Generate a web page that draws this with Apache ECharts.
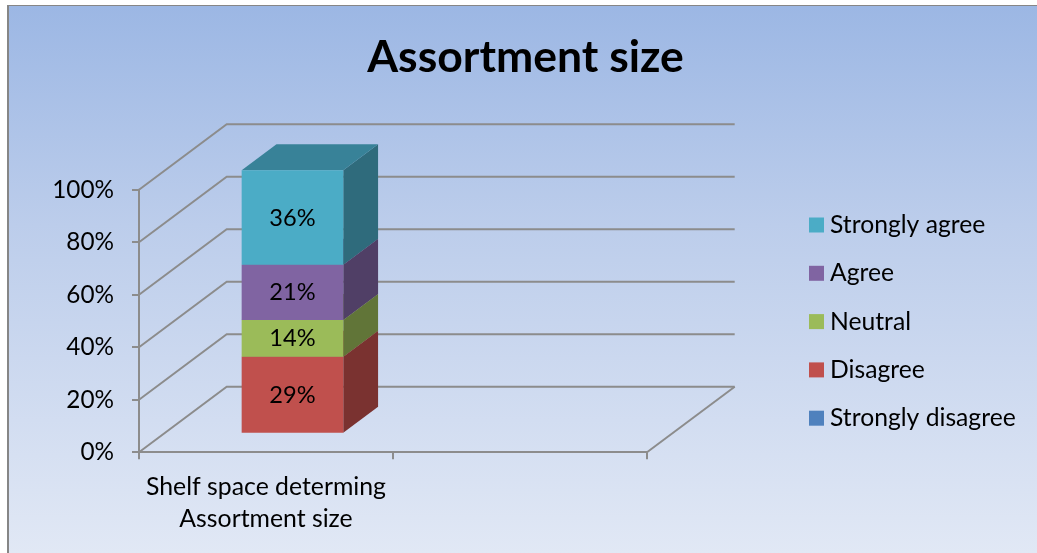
<!DOCTYPE html>
<html>
<head>
<meta charset="utf-8">
<script src="https://cdn.jsdelivr.net/npm/echarts@6/dist/echarts.min.js"></script>
<style>
html,body{margin:0;padding:0;background:#fff;overflow:hidden}
#bg{position:absolute;left:7px;top:5px;width:1030px;height:548px;box-sizing:border-box;border-left:2px solid #868686;border-top:1px solid #868686;background:linear-gradient(180deg,#9cb7e4 0%,#bccdeb 40%,#e1e8f5 100%)}
#chart{position:absolute;left:0;top:0;width:1037px;height:553px}
</style>
</head>
<body>
<div id="bg"></div>
<div id="chart"></div>
<script>
var categories = ['Shelf space determing\nAssortment size', ''];
var seriesNames = ['Strongly disagree', 'Disagree', 'Neutral', 'Agree', 'Strongly agree'];
var seriesValues = [0, 29, 14, 21, 36];
var frontColors = ['#4f81bd', '#c0504d', '#9bbb59', '#8064a2', '#4bacc6'];
var sideColors = ['#2f4d71', '#7a3230', '#617538', '#503f66', '#2f6b7c'];
var topColors = ['#3c618e', '#994040', '#7b9547', '#664f81', '#388298'];
var yTicks = [0, 20, 40, 60, 80, 100];

var FONT = 'Lato, "Open Sans", sans-serif';
var depthX = 87.7, depthY = 65.5;   // oblique projection of the chart's depth
var barNear = 0.296, barFar = 0.693, barRatio = 0.4;
var LINE = '#8c8c8c', LINE_W = 2;

function project(p, t) { return [p[0] + depthX * t, p[1] - depthY * t]; }

function stackBase(idx) {
  var s = 0;
  for (var i = 0; i < idx; i++) s += seriesValues[i];
  return s;
}

function renderWall(params, api) {
  var v = api.value(0);
  var left = api.coord([0, v]);
  var halfCat = api.size([1, 0])[0] / 2;
  var x0 = left[0] - halfCat, y = left[1];
  var x1 = x0 + halfCat * 4;
  var a = [x0, y], b = project(a, 1), c = project([x1, y], 1);
  var style = { stroke: LINE, lineWidth: LINE_W, fill: null };
  var children = [{ type: 'polyline', shape: { points: [a, b, c] }, style: style }];
  if (v === 0) {
    children.push({ type: 'line', shape: { x1: x1, y1: y, x2: c[0], y2: c[1] }, style: style });
  }
  return { type: 'group', children: children };
}

function makeBarRender(idx) {
  return function (params, api) {
    var val = seriesValues[idx];
    if (!val) return { type: 'group', children: [] };
    var base = stackBase(idx);
    var p0 = api.coord([api.value(0), base]);
    var p1 = api.coord([api.value(0), base + val]);
    var w = api.size([1, 0])[0] * barRatio;
    var l = p0[0] - w / 2 + 0.5, r = p0[0] + w / 2 + 0.5;
    var fbl = project([l, p0[1]], barNear), fbr = project([r, p0[1]], barNear);
    var ftl = project([l, p1[1]], barNear), ftr = project([r, p1[1]], barNear);
    var bbr = project([r, p0[1]], barFar), btr = project([r, p1[1]], barFar), btl = project([l, p1[1]], barFar);
    var children = [
      { type: 'polygon', shape: { points: [fbr, bbr, btr, ftr] }, style: { fill: sideColors[idx] } },
      { type: 'polygon', shape: { points: [ftl, ftr, btr, btl] }, style: { fill: topColors[idx] } },
      { type: 'polygon', shape: { points: [fbl, fbr, ftr, ftl] }, style: { fill: frontColors[idx] } },
      { type: 'text', style: { text: val + '%', x: (fbl[0] + fbr[0]) / 2, y: (fbl[1] + ftl[1]) / 2 + 0.5, align: 'center', verticalAlign: 'middle', fill: '#000', font: '23.6px ' + FONT } }
    ];
    return { type: 'group', children: children };
  };
}

var series = [{
  name: 'walls', type: 'custom', silent: true, z: 1, clip: false,
  coordinateSystem: 'cartesian2d', renderItem: renderWall,
  encode: { y: 0 }, data: yTicks.map(function (t) { return [t]; })
}];
seriesNames.forEach(function (n, i) {
  series.push({
    name: n, type: 'custom', z: 3, clip: false, coordinateSystem: 'cartesian2d',
    renderItem: makeBarRender(i), itemStyle: { color: frontColors[i] },
    encode: { x: 0, y: 1 }, data: [[0, seriesValues[i]]]
  });
});

var chart = echarts.init(document.getElementById('chart'), null, { renderer: 'canvas' });
chart.setOption({
  animation: false,
  backgroundColor: 'transparent',
  title: {
    text: 'Assortment size', left: 520.5, top: 30, textAlign: 'center',
    textStyle: { fontFamily: FONT, fontSize: 44.5, fontWeight: 'bold', color: '#000' }
  },
  legend: {
    orient: 'vertical', left: 809, top: 212, padding: 0, itemWidth: 15, itemHeight: 15, itemGap: 22.3,
    icon: 'rect', selectedMode: false,
    data: seriesNames.slice().reverse(),
    textStyle: { fontFamily: FONT, fontSize: 24.7, color: '#000', padding: [0, 0, 0, 1], lineHeight: 26 }
  },
  grid: { left: 139, top: 189.7, width: 508, height: 262.5, containLabel: false },
  xAxis: {
    type: 'category', data: categories,
    axisLine: { lineStyle: { color: LINE, width: LINE_W } },
    axisTick: { show: true, length: 7, lineStyle: { color: LINE, width: LINE_W } },
    axisLabel: { margin: 18.5, interval: 0, fontFamily: FONT, fontSize: 24.8, lineHeight: 32, color: '#000' }
  },
  yAxis: {
    type: 'value', min: 0, max: 100, interval: 20,
    axisLine: { show: true, lineStyle: { color: LINE, width: LINE_W } },
    axisTick: { show: true, length: 7, lineStyle: { color: LINE, width: LINE_W } },
    splitLine: { show: false },
    axisLabel: { margin: 25, formatter: '{value}%', fontFamily: FONT, fontSize: 24.3, color: '#000' }
  },
  series: series
});
</script>
</body>
</html>
